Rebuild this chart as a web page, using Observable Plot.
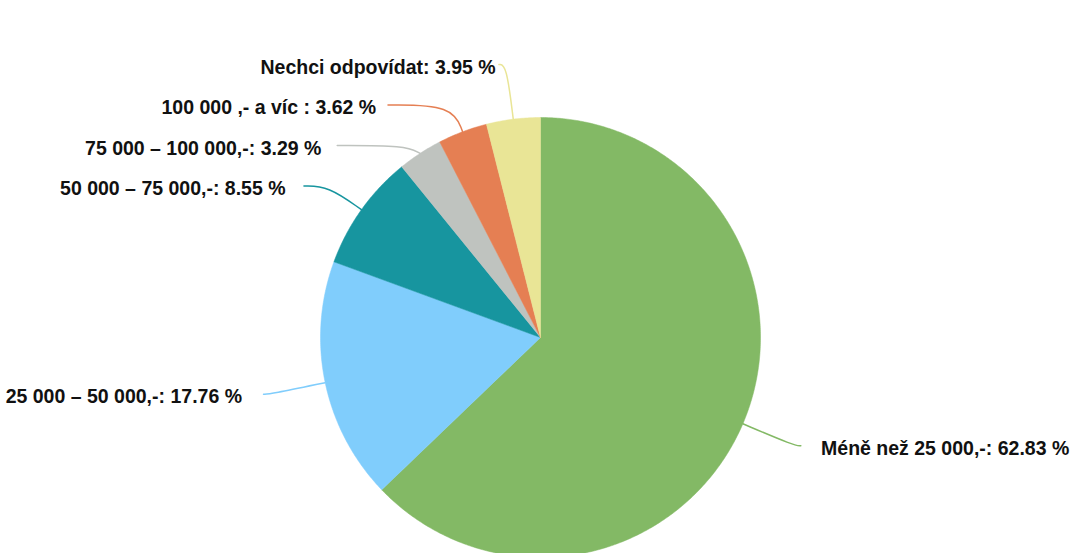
<!DOCTYPE html>
<html>
<head>
<meta charset="utf-8">
<script src="https://cdn.jsdelivr.net/npm/d3@7"></script>
<script src="https://cdn.jsdelivr.net/npm/@observablehq/plot@0.6"></script>
<style>
  html, body { margin: 0; padding: 0; background: #fff; overflow: hidden; }
  #chart { width: 1073px; }
</style>
</head>
<body>
<div id="chart"></div>
<script>
// ---- data ----
const categories = ["Méně než 25 000,-", "25 000 – 50 000,-", "50 000 – 75 000,-", "75 000 – 100 000,-", "100 000 ,- a víc ", "Nechci odpovídat"];
const shares = [62.83, 17.76, 8.55, 3.29, 3.62, 3.95];
const colors = ["#83b965", "#80cdfc", "#17959f", "#bfc3bf", "#e57f53", "#e9e596"];

// ---- layout ----
const W = 1073, H = 600;
const CX = 540, CY = 337, RPX = 220;          // pie center & radius in pixels
const LINE_RX = 283 / RPX, LINE_RY = 276 / RPX; // ellipse where leader lines end
const TEXT_RX = 305 / RPX;                      // ellipse where label text is anchored
const GAP = 40.5 / RPX;                         // min vertical spacing of labels
const MIN_Y = (64 - CY) / RPX;                  // topmost label position

const arcs = d3.pie().sort(null).value(d => d)(shares);

// slice polygons (unit circle, y downward, angle clockwise from 12 o'clock)
const slices = arcs.flatMap((a, i) => {
  const key = categories[i];
  const pts = [{key, x: 0, y: 0}];
  const n = Math.max(2, Math.ceil((a.endAngle - a.startAngle) / (Math.PI / 360)));
  for (let k = 0; k <= n; k++) {
    const t = a.startAngle + (a.endAngle - a.startAngle) * k / n;
    pts.push({key, x: Math.sin(t), y: -Math.cos(t)});
  }
  pts.push({key, x: 0, y: 0});
  return pts;
});

// label placement
const labs = arcs.map((a, i) => {
  const m = (a.startAngle + a.endAngle) / 2;
  return {
    key: categories[i],
    text: `${categories[i]}: ${shares[i].toFixed(2)} %`,
    m,
    side: Math.sin(m) < 0 ? "left" : "right",
    ny: -Math.cos(m) * LINE_RY
  };
});
for (const side of ["left", "right"]) {
  const group = labs.filter(l => l.side === side).sort((a, b) => a.ny - b.ny);
  let prev = -Infinity;
  for (const l of group) {
    l.y = Math.max(l.ny, prev + GAP, MIN_Y);
    prev = l.y;
    const s = side === "left" ? -1 : 1;
    const f = Math.sqrt(Math.max(0, 1 - (l.y / LINE_RY) ** 2));
    l.x = s * LINE_RX * f;
    l.tx = s * TEXT_RX * f;
  }
}

// leader lines: edge -> control (radial/horizontal intersection) -> label end
const leaders = labs.flatMap(l => {
  const dx = Math.sin(l.m), dy = -Math.cos(l.m);
  const ex = dx, ey = dy;
  let t = (l.y - ey) / dy;
  if (!(t > 0.05) || t > LINE_RX) t = 0.12;
  let cx = ex + dx * t;
  if (l.side === "left") cx = Math.max(cx, l.x); else cx = Math.min(cx, l.x);
  return [
    {key: l.key, x: ex, y: ey},
    {key: l.key, x: cx, y: l.y},
    {key: l.key, x: l.x, y: l.y}
  ];
});

const font = "'Liberation Sans', Arial, Helvetica, sans-serif";

const chart = Plot.plot({
  width: W,
  height: H,
  margin: 0,
  x: {domain: [-CX / RPX, (W - CX) / RPX], range: [0, W], axis: null},
  y: {domain: [-CY / RPX, (H - CY) / RPX], range: [0, H], axis: null},
  color: {domain: categories, range: colors},
  style: {fontFamily: font, background: "#fff", overflow: "visible"},
  marks: [
    Plot.line(slices, {x: "x", y: "y", z: "key", fill: "key", stroke: "key", strokeWidth: 0.5}),
    Plot.line(leaders, {x: "x", y: "y", z: "key", stroke: "key", strokeWidth: 1.5, curve: "basis"}),
    Plot.text(labs.filter(l => l.side === "left"), {
      x: "tx", y: "y", dy: 3, text: "text", textAnchor: "end",
      fontSize: 19.5, fontWeight: "bold", fill: "#111", fontFamily: font
    }),
    Plot.text(labs.filter(l => l.side === "right"), {
      x: "tx", y: "y", dy: 3, text: "text", textAnchor: "start",
      fontSize: 19.5, fontWeight: "bold", fill: "#111", fontFamily: font
    })
  ]
});
document.getElementById("chart").appendChild(chart);
</script>
</body>
</html>
